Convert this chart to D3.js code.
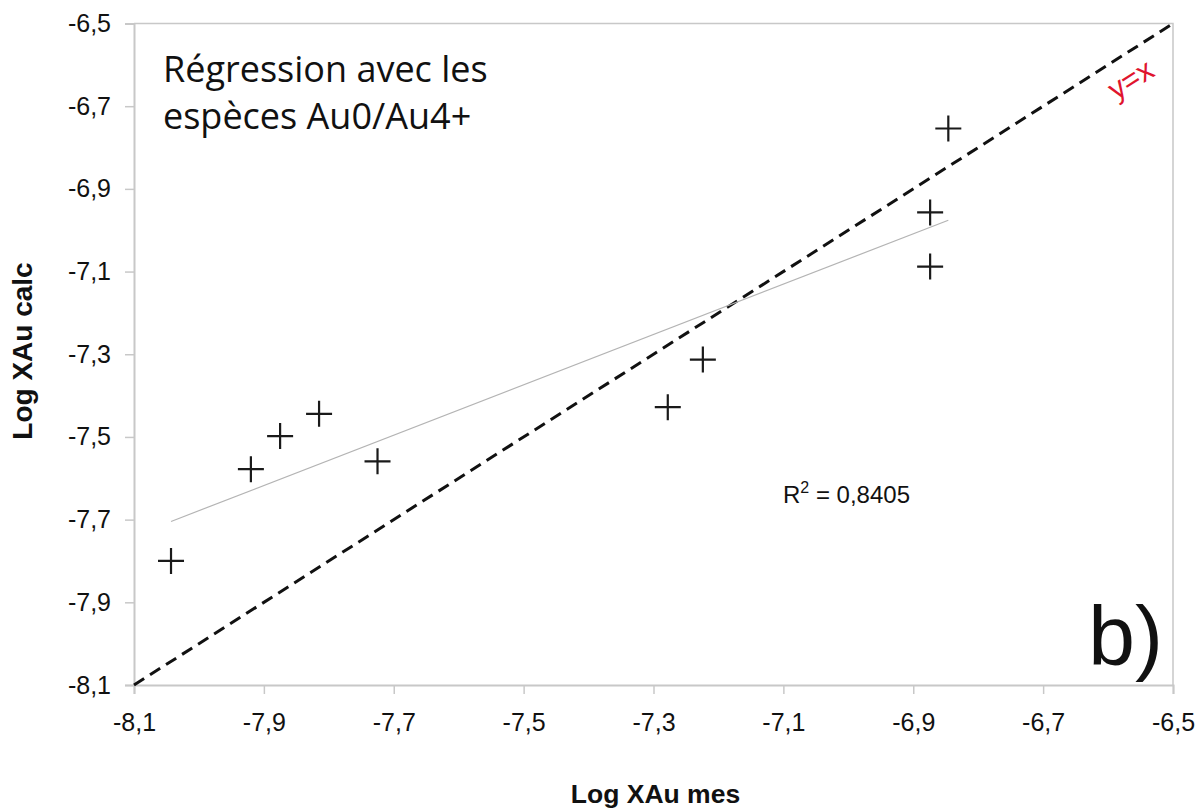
<!DOCTYPE html>
<html>
<head>
<meta charset="utf-8">
<script src="https://cdn.jsdelivr.net/npm/d3@7"></script>
<style>
  body { margin: 0; background: #fff; }
  text { font-family: "Liberation Sans", Arial, sans-serif; }
</style>
</head>
<body>
<div id="chart"></div>
<script>
// measured log values (x) vs calculated (y)
var xMes  = [-8.043, -7.920, -7.875, -7.815, -7.725, -7.278, -7.224, -6.874, -6.874, -6.846];
var yCalc = [-7.800, -7.578, -7.498, -7.444, -7.559, -7.428, -7.313, -6.957, -7.088, -6.754];
var xTicks = [-8.1, -7.9, -7.7, -7.5, -7.3, -7.1, -6.9, -6.7, -6.5];
var yTicks = [-8.1, -7.9, -7.7, -7.5, -7.3, -7.1, -6.9, -6.7, -6.5];
var identity = [-8.1, -6.5];
var r2 = "0,8405";

var width = 1201, height = 809;
var margin = {top: 23.5, right: 28, bottom: 124, left: 134};

// excel style: plain hyphen, comma decimal
var fmt = function(d){ return d.toFixed(1).replace(".", ","); };

var x = d3.scaleLinear().domain([-8.1, -6.5]).range([margin.left, width - margin.right]);
var y = d3.scaleLinear().domain([-8.1, -6.5]).range([height - margin.bottom, margin.top]);

var svg = d3.select("#chart").append("svg")
    .attr("width", width)
    .attr("height", height);

// frame top/right
svg.append("path")
    .attr("d", "M" + x(-8.1) + "," + y(-6.5) + "H" + x(-6.5) + "V" + y(-8.1))
    .attr("fill", "none")
    .attr("stroke", "#c8c8c8")
    .attr("stroke-width", 1.5);

var xAxis = d3.axisBottom(x).tickValues(xTicks).tickFormat(fmt).tickSize(9).tickPadding(14);
var yAxis = d3.axisLeft(y).tickValues(yTicks).tickFormat(fmt).tickSize(9).tickPadding(14);

var gx = svg.append("g")
    .attr("transform", "translate(0," + y(-8.1) + ")")
    .call(xAxis);
var gy = svg.append("g")
    .attr("transform", "translate(" + x(-8.1) + ",0)")
    .call(yAxis);

[gx, gy].forEach(function(g){
  g.select(".domain").attr("stroke", "#c8c8c8").attr("stroke-width", 2);
  g.selectAll(".tick line").attr("stroke", "#c8c8c8").attr("stroke-width", 1.5);
  g.selectAll(".tick text")
      .attr("fill", "#111")
      .style("font-size", "25px")
      .style("font-family", "Liberation Sans, Arial, sans-serif");
});
gx.selectAll(".tick text").attr("dy", "0.92em");

// y = x dashed line
svg.append("line")
    .attr("x1", x(identity[0])).attr("y1", y(identity[0]))
    .attr("x2", x(identity[1])).attr("y2", y(identity[1]))
    .attr("stroke", "#111")
    .attr("stroke-width", 3)
    .attr("stroke-dasharray", "12,7");

// linear regression from the points
var mx = d3.mean(xMes), my = d3.mean(yCalc);
var sxy = d3.sum(xMes, function(d, i){ return (d - mx) * (yCalc[i] - my); });
var sxx = d3.sum(xMes, function(d){ return (d - mx) * (d - mx); });
var slope = sxy / sxx, icpt = my - slope * mx;
var x0 = d3.min(xMes), x1 = d3.max(xMes);

svg.append("line")
    .attr("x1", x(x0)).attr("y1", y(icpt + slope * x0))
    .attr("x2", x(x1)).attr("y2", y(icpt + slope * x1))
    .attr("stroke", "#b4b4b4")
    .attr("stroke-width", 1.2);

// crosses
var pts = xMes.map(function(d, i){ return {x: d, y: yCalc[i]}; });
var arm = 13;
svg.selectAll(".pt")
    .data(pts)
    .enter().append("path")
    .attr("class", "pt")
    .attr("d", function(d){
      var cx = x(d.x), cy = y(d.y);
      return "M" + (cx - arm) + "," + cy + "H" + (cx + arm) + "M" + cx + "," + (cy - arm) + "V" + (cy + arm);
    })
    .attr("stroke", "#1a1a1a")
    .attr("stroke-width", 2.2)
    .attr("fill", "none");

// texts
var title = svg.append("text")
    .attr("x", 163)
    .style("font-family", "'Open Sans', sans-serif")
    .style("font-size", "36px")
    .attr("fill", "#111");
title.append("tspan").attr("x", 163).attr("y", 82).text("Régression avec les");
title.append("tspan").attr("x", 163).attr("y", 129).text("espèces Au0/Au4+");

var r = svg.append("text")
    .attr("x", 783).attr("y", 503)
    .style("font-size", "24px")
    .attr("fill", "#111");
r.append("tspan").text("R");
r.append("tspan").attr("dy", -10).style("font-size", "16px").text("2");
r.append("tspan").attr("dy", 10).text(" = " + r2);

svg.append("text")
    .attr("transform", "translate(1136,88) rotate(-32.5)")
    .attr("text-anchor", "middle")
    .style("font-size", "30px")
    .attr("fill", "#e0142e")
    .text("y=x");

svg.append("text")
    .attr("x", 1163).attr("y", 665)
    .attr("text-anchor", "end")
    .style("font-size", "84px")
    .attr("fill", "#111")
    .text("b)");

svg.append("text")
    .attr("x", (x(-8.1) + x(-6.5)) / 2 + 2).attr("y", 803)
    .attr("text-anchor", "middle")
    .style("font-size", "26.5px")
    .style("font-weight", "bold")
    .attr("fill", "#111")
    .text("Log XAu mes");

svg.append("text")
    .attr("transform", "translate(32,351) rotate(-90)")
    .attr("text-anchor", "middle")
    .style("font-size", "28px")
    .style("font-weight", "bold")
    .attr("fill", "#111")
    .text("Log XAu calc");
</script>
</body>
</html>
